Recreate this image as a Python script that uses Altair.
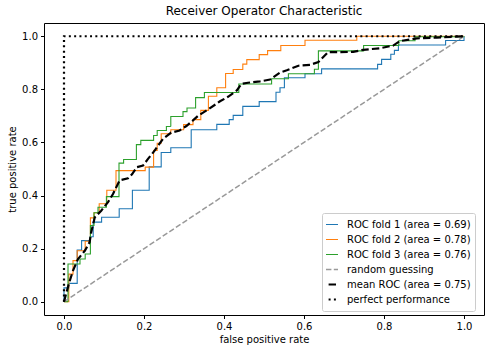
import altair as alt
import pandas as pd

# ---- data ----
fold1_fpr = [0, 0, 0.012, 0.012, 0.033, 0.033, 0.044, 0.044, 0.065, 0.065, 0.073, 0.073, 0.094, 0.094,
             0.138, 0.138, 0.171, 0.171, 0.213, 0.213, 0.243, 0.243, 0.267, 0.267, 0.318, 0.318,
             0.382, 0.382, 0.413, 0.413, 0.423, 0.423, 0.447, 0.447, 0.488, 0.488, 0.53, 0.53,
             0.54, 0.54, 0.551, 0.551, 0.6025, 0.6025, 0.644, 0.644, 0.784, 0.784, 0.794, 0.794,
             0.817, 0.817, 0.826, 0.826, 0.836, 0.836, 0.954, 0.954, 1.0, 1.0]
fold1_tpr = [0, 0.052, 0.052, 0.069, 0.069, 0.195, 0.195, 0.23, 0.23, 0.245, 0.245, 0.3, 0.3, 0.318,
             0.318, 0.35, 0.35, 0.42, 0.42, 0.508, 0.508, 0.562, 0.562, 0.58, 0.58, 0.648,
             0.648, 0.668, 0.668, 0.686, 0.686, 0.702, 0.702, 0.736, 0.736, 0.754, 0.754, 0.789,
             0.789, 0.806, 0.806, 0.844, 0.844, 0.859, 0.859, 0.877, 0.877, 0.894, 0.894, 0.913,
             0.913, 0.932, 0.932, 0.947, 0.947, 0.967, 0.967, 0.984, 0.984, 1.0]

fold2_fpr = [0, 0.012, 0.012, 0.0225, 0.0225, 0.033, 0.033, 0.053, 0.053, 0.066, 0.066, 0.075, 0.075,
             0.088, 0.088, 0.107, 0.107, 0.13, 0.13, 0.203, 0.203, 0.224, 0.224, 0.233, 0.233,
             0.243, 0.243, 0.267, 0.267, 0.299, 0.299, 0.3225, 0.3225, 0.342, 0.342, 0.361, 0.361,
             0.382, 0.382, 0.404, 0.404, 0.423, 0.423, 0.447, 0.447, 0.457, 0.457, 0.488, 0.488,
             0.509, 0.509, 0.542, 0.542, 0.6025, 0.6025, 0.732, 0.732, 1.0]
fold2_tpr = [0, 0, 0.104, 0.104, 0.155, 0.155, 0.192, 0.192, 0.228, 0.228, 0.316, 0.316, 0.335,
             0.335, 0.369, 0.369, 0.42, 0.42, 0.494, 0.494, 0.507, 0.507, 0.57, 0.57, 0.597,
             0.597, 0.633, 0.633, 0.648, 0.648, 0.667, 0.667, 0.686, 0.686, 0.721, 0.721, 0.774,
             0.774, 0.806, 0.806, 0.86, 0.86, 0.875, 0.875, 0.895, 0.895, 0.912, 0.912, 0.931,
             0.931, 0.946, 0.946, 0.965, 0.965, 0.985, 0.985, 1.0, 1.0]

fold3_fpr = [0, 0.01, 0.01, 0.04, 0.04, 0.053, 0.053, 0.066, 0.066, 0.075, 0.075, 0.085, 0.085,
             0.106, 0.106, 0.1375, 0.1375, 0.149, 0.149, 0.181, 0.181, 0.192, 0.192, 0.224, 0.224,
             0.233, 0.233, 0.256, 0.256, 0.267, 0.267, 0.2975, 0.2975, 0.3075, 0.3075, 0.329, 0.329,
             0.351, 0.351, 0.437, 0.437, 0.519, 0.519, 0.561, 0.561, 0.626, 0.626, 0.636, 0.636,
             0.749, 0.749, 0.837, 0.837, 0.8775, 0.8775, 1.0, 1.0]
fold3_tpr = [0, 0, 0.142, 0.142, 0.161, 0.161, 0.18, 0.18, 0.287, 0.287, 0.335, 0.335, 0.356,
             0.356, 0.396, 0.396, 0.522, 0.522, 0.536, 0.536, 0.592, 0.592, 0.608, 0.608, 0.626,
             0.626, 0.645, 0.645, 0.66, 0.66, 0.698, 0.698, 0.716, 0.716, 0.73, 0.73, 0.769,
             0.769, 0.788, 0.788, 0.82, 0.82, 0.84, 0.84, 0.859, 0.859, 0.876, 0.876, 0.945,
             0.945, 0.965, 0.965, 0.983, 0.983, 0.998, 0.998, 1.0]

random_fpr = [0, 1]
random_tpr = [0, 1]

mean_fpr = [0, 0.012, 0.0225, 0.035, 0.052, 0.064, 0.068, 0.077, 0.093, 0.11, 0.1225, 0.139, 0.16,
            0.17, 0.182, 0.1975, 0.21, 0.227, 0.2475, 0.268, 0.289, 0.306, 0.3225, 0.335, 0.361,
            0.39, 0.41, 0.432, 0.444, 0.46, 0.49, 0.515, 0.54, 0.557, 0.586, 0.615, 0.636, 0.66,
            0.723, 0.748, 0.79, 0.823, 0.84, 0.882, 0.932, 1.0]
mean_tpr = [0, 0.067, 0.117, 0.161, 0.192, 0.224, 0.262, 0.318, 0.343, 0.375, 0.406, 0.457, 0.465,
            0.48, 0.507, 0.513, 0.538, 0.57, 0.614, 0.637, 0.645, 0.662, 0.683, 0.7, 0.725,
            0.755, 0.772, 0.796, 0.821, 0.825, 0.83, 0.837, 0.863, 0.872, 0.889, 0.892, 0.903, 0.94,
            0.941, 0.949, 0.955, 0.965, 0.982, 0.992, 0.995, 1.0]

perfect_fpr = [0, 0, 1]
perfect_tpr = [0, 1, 1]

names = ["ROC fold 1 (area = 0.69)", "ROC fold 2 (area = 0.78)", "ROC fold 3 (area = 0.76)",
         "random guessing", "mean ROC (area = 0.75)", "perfect performance"]
colors = ["#1f77b4", "#ff7f0e", "#2ca02c", "#999999", "#000000", "#000000"]
dashes = [[1, 0], [1, 0], [1, 0], [5.5, 2.4], [7.4, 3.2], [2, 3.3]]
widths = [1.1, 1.1, 1.1, 1.5, 2.2, 2.2]

series = [(fold1_fpr, fold1_tpr), (fold2_fpr, fold2_tpr), (fold3_fpr, fold3_tpr),
          (random_fpr, random_tpr), (mean_fpr, mean_tpr), (perfect_fpr, perfect_tpr)]

rows = []
for name, lw, (fx, fy) in zip(names, widths, series):
    for i, (a, b) in enumerate(zip(fx, fy)):
        rows.append({"series": name, "lw": lw, "idx": i, "fpr": a, "tpr": b})
df = pd.DataFrame(rows)

ticks = [0, 0.2, 0.4, 0.6, 0.8, 1.0]
FONT = "DejaVu Sans"
FS = 10

legend_sw = ("datum.value == 'random guessing' ? 1.5 : "
             "(datum.value == 'mean ROC (area = 0.75)' || datum.value == 'perfect performance' ? 2.2 : 1.1)")

def ax(title_pad):
    return dict(values=ticks, format=".1f", grid=False, domain=False,
                tickSize=3.5, tickColor="black", labelColor="black",
                labelFontSize=FS, labelFont=FONT, labelPadding=3,
                titleFont=FONT, titleFontSize=FS, titleFontWeight="normal",
                titleColor="black", titlePadding=title_pad, labelFlush=False)

chart = alt.Chart(df).mark_line(strokeCap="butt", strokeJoin="miter").encode(
    x=alt.X("fpr:Q", title="false positive rate",
            scale=alt.Scale(domain=[-0.05, 1.05], nice=False, zero=False),
            axis=alt.Axis(**ax(3))),
    y=alt.Y("tpr:Q", title="true positive rate",
            scale=alt.Scale(domain=[-0.05, 1.05], nice=False, zero=False),
            axis=alt.Axis(**ax(4))),
    color=alt.Color("series:N", scale=alt.Scale(domain=names, range=colors),
                    legend=alt.Legend(title=None, orient="none", legendX=278, legendY=190,
                                      symbolType="stroke", symbolSize=400, clipHeight=15,
                                      rowPadding=0, padding=4, labelOffset=14, symbolOffset=-3,
                                      labelFont=FONT, labelFontSize=FS, labelColor="black",
                                      strokeColor="#cccccc", fillColor="white",
                                      cornerRadius=2, labelLimit=300,
                                      symbolStrokeWidth={"expr": legend_sw})),
    strokeDash=alt.StrokeDash("series:N", scale=alt.Scale(domain=names, range=dashes), legend=None),
    strokeWidth=alt.StrokeWidth("lw:Q", scale=None),
    detail="series:N",
    order="idx:Q",
).properties(
    width=440, height=292,
    title=alt.Title("Receiver Operator Characteristic", font=FONT, fontSize=12,
                    fontWeight="normal", color="black", offset=5),
    autosize=alt.AutoSizeParams(type="none"),
    padding={"left": 44, "top": 23, "right": 12, "bottom": 37},
).configure_view(stroke="black", strokeWidth=1)

chart.save("out.html", embed_options={"renderer": "svg", "actions": False})
